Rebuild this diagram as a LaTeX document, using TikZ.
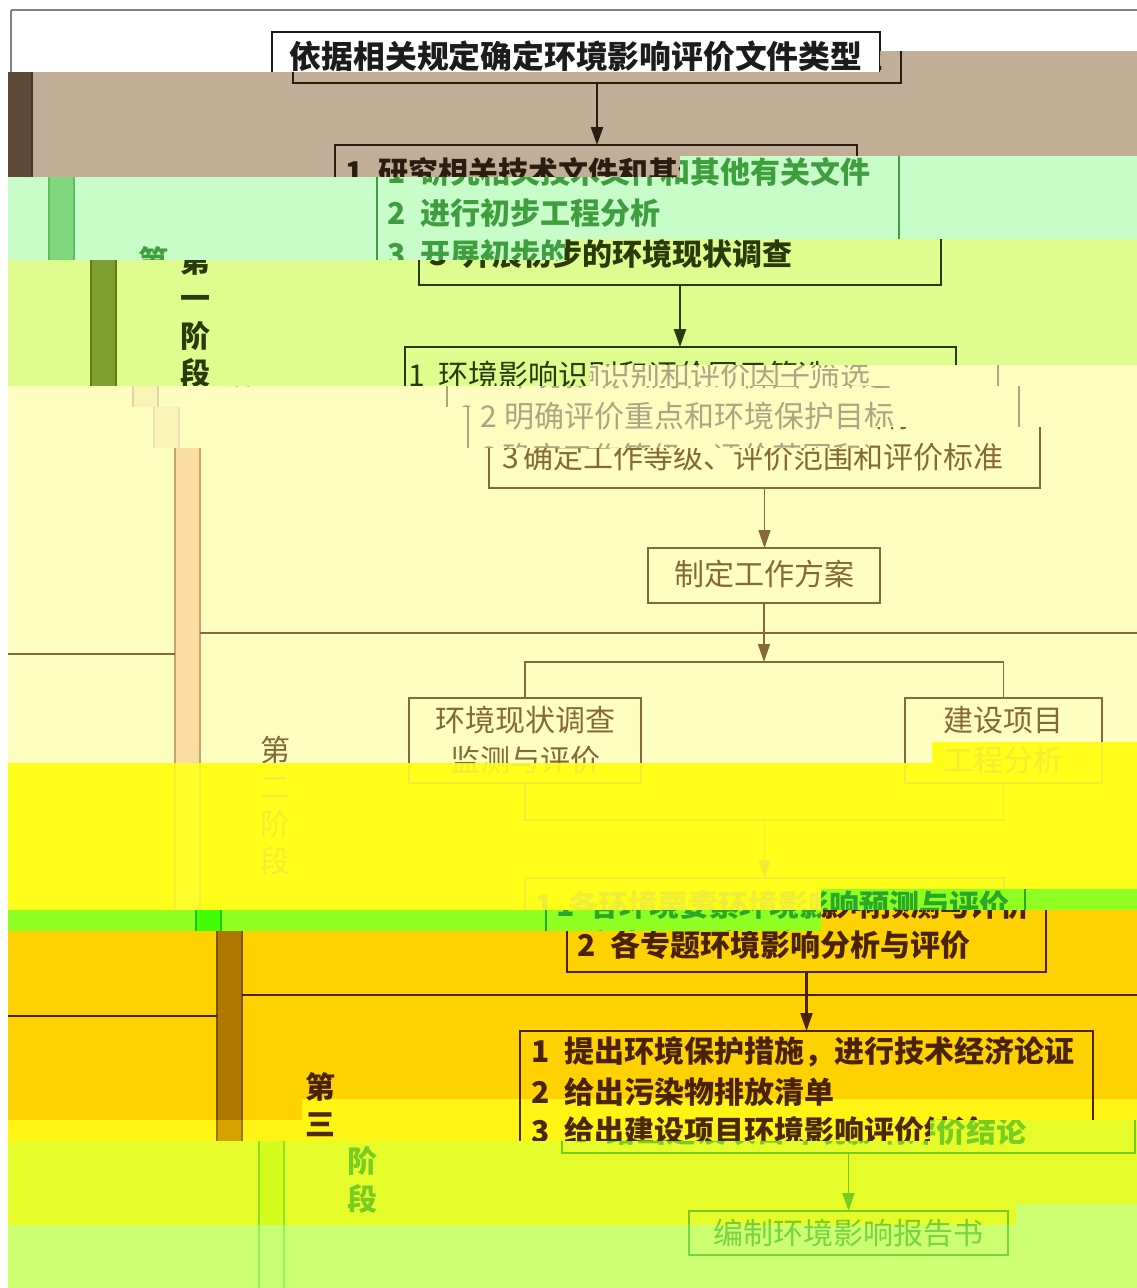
\documentclass[tikz,border=0pt]{standalone}
\usepackage{fontspec}
\setmainfont{Noto Sans CJK SC}
\usetikzlibrary{arrows.meta}
\tikzset{
  boxa/.style={draw=ink, line width=2.4pt, rectangle, inner sep=0pt, outer sep=0pt},
  boxb/.style={draw=ink, line width=1.6pt, rectangle, inner sep=0pt, outer sep=0pt},
  txt/.style={text=ink, inner sep=0pt, font=\fontsize{30}{36}\selectfont, text height=26.4pt, text depth=3.6pt},
  txtb/.style={txt, font=\fontsize{30}{36}\selectfont\bfseries},
  arra/.style={draw=ink, line width=2.4pt, -{Triangle[length=18pt,width=12pt]}},
  arrb/.style={draw=ink, line width=1.6pt, -{Triangle[length=18pt,width=12pt]}},
  conn/.style={draw=ink, line width=1.6pt},
  sepline/.style={draw=ink, line width=2.6pt},
}
\newcommand\nm[2][33]{\makebox[#1pt][l]{#2}}
\newcommand\setcols[4]{\definecolor{bgc}{HTML}{#1}\definecolor{ink}{HTML}{#2}\definecolor{barf}{HTML}{#3}\definecolor{barl}{HTML}{#4}}
\def\bandtop{0}\def\bandbot{0}
% draw a text only when its line (centre #1) meets the current band
\newcommand\T[2]{%
  \ifdim\dimexpr #1pt+16pt\relax>\bandtop pt
    \ifdim\dimexpr #1pt-16pt\relax<\bandbot pt #2\fi\fi}
\newcommand\drawdiagram{%
  \fill[barf] (-14,10) rectangle (11,1300);
  \draw[barl, line width=1.6pt] (-14,10) -- (-14,1300) (11,10) -- (11,1300);
  \draw[ink!55, line width=2pt] (11,10) -- (1500,10);
  \draw[sepline] (11,633) -- (1500,633) (-400,654) -- (-14,654);
  \draw[sepline] (11,995) -- (1500,995) (-400,1016) -- (-14,1016);
  % stage labels
  \T{261}{\node[txtb] (s1a) at (90,261) {第};}
  \T{298.5}{\node[txtb] (s1b) at (90,298.5) {一};}
  \T{336}{\node[txtb] (s1c) at (90,336) {阶};}
  \T{373.5}{\node[txtb] (s1d) at (90,373.5) {段};}
  \T{750}{\node[txt] (s2a) at (86,750) {第};}
  \T{787}{\node[txt] (s2b) at (86,787) {二};}
  \T{824}{\node[txt] (s2c) at (86,824) {阶};}
  \T{861}{\node[txt] (s2d) at (86,861) {段};}
  \T{1087}{\node[txtb] (s3a) at (89,1087) {第};}
  \T{1124}{\node[txtb] (s3b) at (89,1124) {三};}
  \T{1161}{\node[txtb] (s3c) at (89,1161) {阶};}
  \T{1199}{\node[txtb] (s3d) at (89,1199) {段};}
  % boxes and their texts
  \node[boxa, minimum width=608pt, minimum height=51pt] (b1) at (576,57.5) {};
  \T{57}{\node[txtb, font=\fontsize{31.8}{36}\selectfont\bfseries] (t1) at (576,57) {依据相关规定确定环境影响评价文件类型};}
  \node[boxa, minimum width=522pt, minimum height=140pt] (b2) at (575,215) {};
  \T{172}{\node[txtb, anchor=west] (t2a) at (324,172) {\nm{1}研究相关技术文件和其他有关文件};}
  \T{213}{\node[txtb, anchor=west] (t2b) at (324,213) {\nm{2}进行初步工程分析};}
  \T{254}{\node[txtb, anchor=west] (t2c) at (324,254) {\nm{3}开展初步的环境现状调查};}
  \node[boxa, minimum width=551pt, minimum height=141pt] (b3) at (575.5,417.5) {};
  \T{375}{\node[txt, anchor=west] (t3a) at (303,375) {\nm[30]{1}环境影响识别和评价因子筛选};}
  \T{416}{\node[txt, anchor=west] (t3b) at (312,416) {\nm[24]{2}明确评价重点和环境保护目标};}
  \T{457}{\node[txt, anchor=west] (t3c) at (313,457) {\nm[21]{3}确定工作等级、评价范围和评价标准};}
  \node[boxb, minimum width=232pt, minimum height=55pt] (b4) at (575,575.5) {};
  \T{574}{\node[txt] (t4) at (575,574) {制定工作方案};}
  \coordinate (sp) at (575.5,662);
  \node[boxb, minimum width=232pt, minimum height=85pt] (b5) at (336,740.5) {};
  \T{720}{\node[txt] (t5a) at (336,720) {环境现状调查};}
  \T{760}{\node[txt] (t5b) at (336,760) {监测与评价};}
  \node[boxb, minimum width=197pt, minimum height=85pt] (b6) at (814.5,740.5) {};
  \T{720}{\node[txt] (t6a) at (814.5,720) {建设项目};}
  \T{760}{\node[txt] (t6b) at (814.5,760) {工程分析};}
  \coordinate (mg) at (575.5,820);
  \node[boxa, minimum width=479pt, minimum height=94pt] (b7) at (575.5,925) {};
  \T{905}{\node[txtb, anchor=west] (t7a) at (346,905) {\nm{1}各环境要素环境影响预测与评价};}
  \T{945}{\node[txtb, anchor=west] (t7b) at (346,945) {\nm{2}各专题环境影响分析与评价};}
  \node[boxa, minimum width=573pt, minimum height=122pt] (b8) at (575.5,1092) {};
  \T{1051}{\node[txtb, anchor=west] (t8a) at (300,1051) {\nm{1}提出环境保护措施，进行技术经济论证};}
  \T{1092}{\node[txtb, anchor=west] (t8b) at (300,1092) {\nm{2}给出污染物排放清单};}
  \T{1131}{\node[txtb, anchor=west] (t8c) at (300,1131) {\nm{3}给出建设项目环境影响评价结论};}
  \node[boxb, minimum width=319pt, minimum height=44pt] (b9) at (575.5,1233) {};
  \T{1233}{\node[txt] (t9) at (575.5,1233) {编制环境影响报告书};}
  % connectors
  \draw[arra] (b1.south) -- (b1.south |- b2.north);
  \draw[arra] (b2.south) -- (b2.south |- b3.north);
  \draw[arrb] (b3.south) -- (b3.south |- b4.north);
  \draw[arrb] (b4.south) -- (b4.south |- sp);
  \draw[conn] (b5.north) |- (sp) -| (b6.north);
  \draw[conn] (b5.south) |- (mg) -| (b6.south);
  \draw[arrb] (mg) -- (b7.north);
  \draw[arra] (b7.south) -- (b7.south |- b8.north);
  \draw[arrb] (b8.south) -- (b8.south |- b9.north);
}
% one shifted, tinted band: #1 shift, #2/#3 top row and column of its start, #4/#5 of the next band
\newcommand\band[5]{%
  \def\bandtop{#2}\edef\bandbot{\the\numexpr#4+21\relax}%
  \begin{scope}
    \clip (8,#2+21) -- (#3,#2+21) -- (#3,#2) -- (1137,#2) -- (1137,#4) -- (#5,#4) -- (#5,#4+21) -- (8,#4+21) -- cycle;
    \fill[bgc] (0,0) rectangle (1137,1288);
    \begin{scope}[xshift=#1pt]\drawdiagram\end{scope}
  \end{scope}}
\begin{document}
\begin{tikzpicture}[x=1pt,y=-1pt]
\useasboundingbox (0,0) rectangle (1137,1288);
\fill[white] (0,0) rectangle (1137,1288);
\setcols{FFFFFF}{1C1C1C}{FFFFFF}{808080}\band{0}{-21}{8}{51}{880}
\setcols{C2AE96}{2A1C0E}{5E4A37}{46362A}\band{21}{51}{880}{156}{680}
\setcols{C8FCC8}{3F9F3F}{7FD87F}{5FBF5F}\band{63}{156}{680}{239}{565}
\setcols{DFFC8F}{2A3A0A}{7F9F30}{5F7F1A}\band{105}{239}{565}{365}{590}
\setcols{FDFDC0}{B0A486}{FAF4B4}{E0D4A8}\band{147}{365}{590}{386}{470}
\setcols{FDFDC0}{B0A486}{FAF4B8}{ECE2B8}\band{168}{386}{470}{427}{870}
\setcols{FEFEC0}{85693A}{F8DCA2}{C8A468}\band{189}{427}{870}{742}{932}
\setcols{FEFE1A}{EEEE36}{FEFE2A}{F2F234}\band{189}{742}{932}{889}{821}
\setcols{8FFE22}{2AA82A}{44FE08}{20C800}\band{210}{889}{821}{910}{821}
\setcols{FED200}{4A2200}{AE7800}{7C5200}\band{231}{910}{821}{1099}{302}
\setcols{FFF414}{4A2800}{D8A200}{A07400}\band{231}{1099}{302}{1120}{930}
\setcols{E6FC2A}{78CC22}{D4FC1C}{8EE022}\band{273}{1120}{930}{1204}{1016}
\setcols{CCFE72}{78D444}{C8FE76}{98F058}\band{273}{1204}{1016}{1300}{8}
\end{tikzpicture}
\end{document}
